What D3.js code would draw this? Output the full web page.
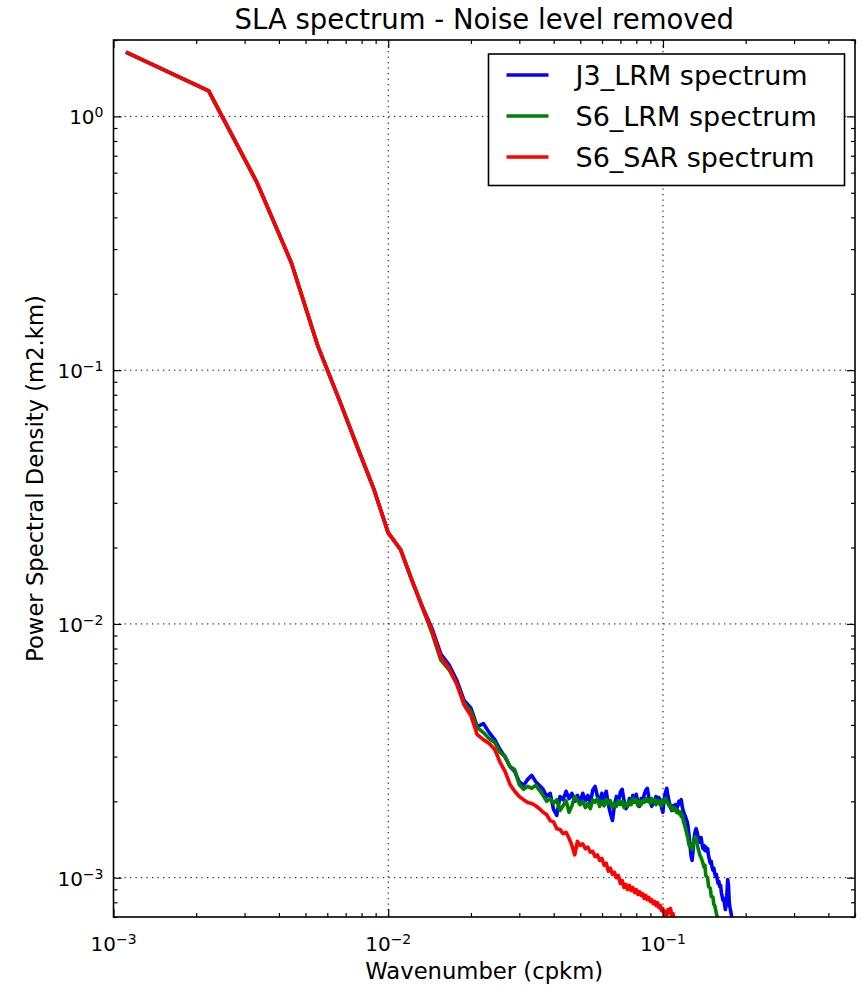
<!DOCTYPE html>
<html>
<head>
<meta charset="utf-8">
<script src="https://cdn.jsdelivr.net/npm/d3@7"></script>
<style>
  body { margin: 0; background: #fff; }
  svg { display: block; }
  text { font-family: "DejaVu Sans", sans-serif; fill: #000; }
</style>
</head>
<body>
<svg id="chart" width="861" height="989"></svg>
<script>
// Wavenumber step of the spectra (cpkm); bin n sits at n * dk
const dk = 1.11e-3;

// Power spectral density (m2.km), one value per wavenumber bin starting at n = 1
const j3Lrm = [
  1.79, 1.26, 0.548, 0.265, 0.124, 0.0755, 0.0489, 0.0338, 0.0229, 0.0196,
  0.0148, 0.0117, 0.0096, 0.0076, 0.0069, 0.0060, 0.0050,
  4.67e-3, 3.94e-3, 4.05e-3, 3.73e-3, 3.50e-3, 3.20e-3, 2.98e-3, 2.74e-3, 2.62e-3,
  2.39e-3, 2.31e-3, 2.44e-3, 2.53e-3, 2.39e-3, 2.31e-3,
  2.23e-3, 2.09e-3, 2.15e-3, 1.86e-3, 1.76e-3, 2.09e-3, 2.03e-3, 2.19e-3, 2.05e-3, 2.15e-3,
  2.00e-3, 2.11e-3, 1.98e-3, 2.15e-3, 2.01e-3, 2.11e-3, 1.96e-3, 2.21e-3,
  2.29e-3, 2.09e-3, 2.01e-3, 2.15e-3, 2.03e-3, 2.19e-3, 1.94e-3, 1.79e-3, 1.68e-3, 1.94e-3,
  2.09e-3, 1.98e-3, 2.17e-3, 2.23e-3, 2.01e-3, 1.87e-3, 1.92e-3, 2.05e-3, 1.96e-3, 2.11e-3,
  2.01e-3, 2.13e-3, 1.98e-3, 1.91e-3, 2.05e-3, 1.98e-3, 2.13e-3, 2.21e-3, 2.25e-3, 2.07e-3,
  2.00e-3, 1.91e-3, 2.01e-3, 1.96e-3, 2.09e-3, 2.00e-3, 2.07e-3, 2.01e-3, 1.89e-3, 1.81e-3,
  2.03e-3, 2.17e-3, 2.25e-3, 2.09e-3, 1.98e-3, 1.89e-3, 1.84e-3, 1.92e-3, 1.87e-3, 1.94e-3,
  1.86e-3, 1.92e-3, 2.00e-3, 1.96e-3, 2.03e-3, 1.89e-3, 1.82e-3, 1.77e-3, 1.73e-3, 1.68e-3,
  1.61e-3, 1.48e-3, 1.35e-3, 1.22e-3, 1.17e-3, 1.29e-3, 1.44e-3, 1.52e-3, 1.56e-3, 1.51e-3,
  1.44e-3, 1.40e-3, 1.38e-3, 1.44e-3, 1.36e-3, 1.30e-3, 1.34e-3, 1.28e-3, 1.32e-3, 1.27e-3,
  1.30e-3, 1.22e-3, 1.18e-3, 1.14e-3, 1.16e-3, 1.10e-3, 1.07e-3, 1.09e-3, 1.04e-3, 1.01e-3,
  1.03e-3, 0.984e-3, 0.949e-3, 0.966e-3, 0.923e-3, 0.932e-3, 0.874e-3, 0.843e-3, 0.813e-3, 0.828e-3,
  0.784e-3, 0.749e-3, 0.777e-3, 0.866e-3, 0.984e-3, 0.932e-3, 0.798e-3, 0.763e-3, 0.736e-3, 0.709e-3,
  0.690e-3, 0.660e-3, 0.624e-3, 0.570e-3
];

const s6Lrm = [
  1.79, 1.26, 0.548, 0.265, 0.124, 0.0755, 0.0489, 0.0338, 0.0229, 0.0196,
  0.0148, 0.0116, 0.0092, 0.0072, 0.0066, 0.0058, 0.0049,
  4.52e-3, 3.91e-3, 3.73e-3, 3.53e-3, 3.41e-3, 3.11e-3, 3.01e-3, 2.74e-3, 2.67e-3,
  2.33e-3, 2.23e-3, 2.29e-3, 2.25e-3, 2.31e-3, 2.21e-3,
  2.11e-3, 2.00e-3, 2.05e-3, 1.96e-3, 2.03e-3, 1.84e-3, 1.92e-3, 2.01e-3, 1.81e-3, 1.92e-3,
  2.09e-3, 2.01e-3, 1.94e-3, 2.00e-3, 1.89e-3, 1.96e-3, 1.87e-3, 2.03e-3,
  1.98e-3, 2.05e-3, 1.91e-3, 2.00e-3, 1.92e-3, 2.03e-3, 1.96e-3, 2.01e-3, 1.89e-3, 1.96e-3,
  1.91e-3, 2.01e-3, 1.94e-3, 2.00e-3, 1.89e-3, 1.96e-3, 1.91e-3, 2.00e-3, 1.94e-3, 2.05e-3,
  1.98e-3, 2.03e-3, 1.92e-3, 2.00e-3, 1.94e-3, 2.01e-3, 1.98e-3, 2.05e-3, 2.00e-3, 2.03e-3,
  1.96e-3, 2.05e-3, 2.00e-3, 2.03e-3, 1.94e-3, 2.01e-3, 1.96e-3, 2.00e-3, 1.92e-3, 2.03e-3,
  1.98e-3, 2.05e-3, 2.01e-3, 1.96e-3, 1.91e-3, 1.94e-3, 1.86e-3, 1.89e-3, 1.84e-3, 1.87e-3,
  1.81e-3, 1.84e-3, 1.79e-3, 1.82e-3, 1.74e-3, 1.77e-3, 1.66e-3, 1.61e-3, 1.55e-3, 1.49e-3,
  1.43e-3, 1.35e-3, 1.32e-3, 1.34e-3, 1.29e-3, 1.35e-3, 1.41e-3, 1.45e-3, 1.43e-3, 1.36e-3,
  1.30e-3, 1.26e-3, 1.22e-3, 1.20e-3, 1.17e-3, 1.14e-3, 1.10e-3, 1.12e-3, 1.02e-3, 1.01e-3,
  1.00e-3, 0.923e-3, 0.915e-3, 0.907e-3, 0.843e-3, 0.843e-3, 0.836e-3, 0.784e-3, 0.777e-3, 0.749e-3,
  0.722e-3, 0.697e-3, 0.666e-3, 0.624e-3, 0.570e-3
];

const s6Sar = [
  1.79, 1.26, 0.548, 0.265, 0.124, 0.0755, 0.0489, 0.0338, 0.0229, 0.0196,
  0.0148, 0.0116, 0.0094, 0.0074, 0.0067, 0.0058, 0.0048,
  4.36e-3, 3.66e-3, 3.50e-3, 3.38e-3, 3.20e-3, 2.85e-3, 2.62e-3, 2.33e-3, 2.19e-3,
  2.09e-3, 2.03e-3, 1.98e-3, 1.96e-3, 1.92e-3, 1.87e-3,
  1.81e-3, 1.77e-3, 1.68e-3, 1.66e-3, 1.56e-3, 1.55e-3, 1.49e-3, 1.51e-3, 1.43e-3, 1.34e-3,
  1.23e-3, 1.39e-3, 1.34e-3, 1.36e-3, 1.30e-3, 1.32e-3, 1.26e-3, 1.27e-3,
  1.21e-3, 1.23e-3, 1.17e-3, 1.19e-3, 1.12e-3, 1.14e-3, 1.06e-3, 1.09e-3, 1.03e-3, 1.05e-3,
  1.00e-3, 1.02e-3, 0.949e-3, 0.975e-3, 0.915e-3, 0.940e-3, 0.898e-3, 0.932e-3, 0.890e-3, 0.915e-3,
  0.874e-3, 0.898e-3, 0.859e-3, 0.882e-3, 0.851e-3, 0.866e-3, 0.828e-3, 0.851e-3, 0.820e-3, 0.836e-3,
  0.806e-3, 0.820e-3, 0.791e-3, 0.806e-3, 0.777e-3, 0.798e-3, 0.763e-3, 0.777e-3, 0.742e-3, 0.756e-3,
  0.716e-3, 0.736e-3, 0.709e-3, 0.749e-3, 0.729e-3, 0.756e-3, 0.709e-3, 0.722e-3, 0.684e-3, 0.648e-3,
  0.597e-3, 0.545e-3
];

const seriesNames = ["J3_LRM spectrum", "S6_LRM spectrum", "S6_SAR spectrum"];
const seriesColors = ["#0000ff", "#008000", "#ff0000"];
const seriesValues = [j3Lrm, s6Lrm, s6Sar];

const xDomain = [1e-3, 0.5];
const yDomain = [7e-4, 2];
const xMajor = [1e-3, 1e-2, 1e-1];
const yMajor = [1e-3, 1e-2, 1e-1, 1];
const xExponents = ["\u22123", "\u22122", "\u22121"];
const yExponents = ["\u22123", "\u22122", "\u22121", "0"];

const titleText = "SLA spectrum - Noise level removed";
const xLabel = "Wavenumber (cpkm)";
const yLabel = "Power Spectral Density (m2.km)";

// ---- layout ----
const plot = { left: 113.5, right: 855, top: 40, bottom: 917 };
const svg = d3.select("#chart");

const x = d3.scaleLog().domain(xDomain).range([plot.left, plot.right]);
const y = d3.scaleLog().domain(yDomain).range([plot.bottom, plot.top]);

// minor ticks: 2..9 times each power of ten inside the domain
function minorTicks(domain) {
  const out = [];
  for (let e = Math.floor(Math.log10(domain[0])); e <= Math.ceil(Math.log10(domain[1])); e++) {
    for (let m = 2; m <= 9; m++) {
      const v = m * Math.pow(10, e);
      if (v >= domain[0] && v <= domain[1]) out.push(v);
    }
  }
  return out;
}
const xMinor = minorTicks(xDomain);
const yMinor = minorTicks(yDomain);

// ---- grid ----
const grid = svg.append("g").attr("class", "grid");
grid.selectAll("line.gx").data(xMajor).join("line")
  .attr("x1", d => x(d)).attr("x2", d => x(d))
  .attr("y1", plot.top).attr("y2", plot.bottom)
  .attr("stroke", "#000").attr("stroke-width", 1).attr("stroke-dasharray", "1.3,4.2");
grid.selectAll("line.gy").data(yMajor).join("line")
  .attr("y1", d => y(d)).attr("y2", d => y(d))
  .attr("x1", plot.left).attr("x2", plot.right)
  .attr("stroke", "#000").attr("stroke-width", 1).attr("stroke-dasharray", "1.3,4.2");

// ---- spectra ----
svg.append("clipPath").attr("id", "plotClip").append("rect")
  .attr("x", plot.left).attr("y", plot.top)
  .attr("width", plot.right - plot.left).attr("height", plot.bottom - plot.top);

const line = d3.line()
  .x((d, i) => x((i + 1) * dk))
  .y(d => y(d));

svg.append("g").attr("clip-path", "url(#plotClip)")
  .selectAll("path").data(seriesValues).join("path")
  .attr("d", d => line(d))
  .attr("fill", "none")
  .attr("stroke", (d, i) => seriesColors[i])
  .attr("stroke-width", 3.6)
  .attr("stroke-linejoin", "round");

// ---- axes: ticks point inward on all four sides ----
function tickAxis(axisFn, scale, values, size, transform) {
  svg.append("g").attr("transform", transform)
    .call(axisFn(scale).tickValues(values).tickSizeInner(-size).tickSizeOuter(0).tickFormat(""))
    .call(g => g.select(".domain").remove())
    .call(g => g.selectAll(".tick line").attr("stroke", "#000").attr("stroke-width", 1.2));
}
tickAxis(d3.axisBottom, x, xMajor, 8, `translate(0,${plot.bottom})`);
tickAxis(d3.axisBottom, x, xMinor, 4, `translate(0,${plot.bottom})`);
tickAxis(d3.axisTop, x, xMajor, 8, `translate(0,${plot.top})`);
tickAxis(d3.axisTop, x, xMinor, 4, `translate(0,${plot.top})`);
tickAxis(d3.axisLeft, y, yMajor, 8, `translate(${plot.left},0)`);
tickAxis(d3.axisLeft, y, yMinor, 4, `translate(${plot.left},0)`);
tickAxis(d3.axisRight, y, yMajor, 8, `translate(${plot.right},0)`);
tickAxis(d3.axisRight, y, yMinor, 4, `translate(${plot.right},0)`);

// frame
svg.append("rect")
  .attr("x", plot.left).attr("y", plot.top)
  .attr("width", plot.right - plot.left).attr("height", plot.bottom - plot.top)
  .attr("fill", "none").attr("stroke", "#000").attr("stroke-width", 1.6);

// ---- tick labels (10 with superscript exponent) ----
const tickFont = 20;
function powerLabel(sel, exps) {
  sel.each(function(d, i) {
    const t = d3.select(this);
    t.append("tspan").text("10");
    t.append("tspan").attr("dy", "-0.5em").attr("font-size", tickFont * 0.7).text(exps[i]);
  });
}
svg.append("g").selectAll("text").data(xMajor).join("text")
  .attr("x", d => x(d)).attr("y", plot.bottom + 34)
  .attr("text-anchor", "middle").attr("font-size", tickFont)
  .call(powerLabel, xExponents);
svg.append("g").selectAll("text").data(yMajor).join("text")
  .attr("x", plot.left - 10).attr("y", d => y(d) + 8)
  .attr("text-anchor", "end").attr("font-size", tickFont)
  .call(powerLabel, yExponents);

// ---- titles ----
svg.append("text")
  .attr("x", (plot.left + plot.right) / 2).attr("y", 29)
  .attr("text-anchor", "middle").attr("font-size", 27.5)
  .text(titleText);
svg.append("text")
  .attr("x", (plot.left + plot.right) / 2).attr("y", 979)
  .attr("text-anchor", "middle").attr("font-size", 22.7)
  .text(xLabel);
svg.append("text")
  .attr("transform", `translate(43,${(plot.top + plot.bottom) / 2}) rotate(-90)`)
  .attr("text-anchor", "middle").attr("font-size", 22.7)
  .text(yLabel);

// ---- legend ----
const legend = svg.append("g").attr("transform", "translate(488.5,54)");
legend.append("rect")
  .attr("width", 356).attr("height", 131.5)
  .attr("fill", "#fff").attr("stroke", "#000").attr("stroke-width", 1.6);
const rows = legend.selectAll("g.row").data(seriesNames).join("g")
  .attr("transform", (d, i) => `translate(0,${21 + i * 41})`);
rows.append("line")
  .attr("x1", 18).attr("x2", 60).attr("y1", 0).attr("y2", 0)
  .attr("stroke", (d, i) => seriesColors[i]).attr("stroke-width", 3.6);
rows.append("text")
  .attr("x", 87).attr("y", 10).attr("font-size", 27)
  .text(d => d);
</script>
</body>
</html>
